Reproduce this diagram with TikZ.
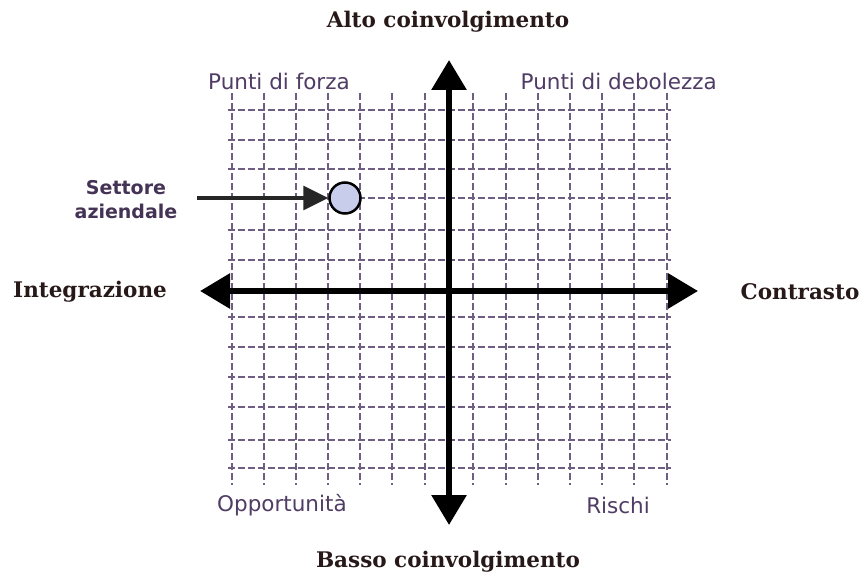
\documentclass[tikz,border=0pt]{standalone}
\usepackage{fontspec}
\setmainfont{DejaVu Sans}
\newfontfamily\titlefont{DejaVu Serif}
\usetikzlibrary{arrows.meta}
\definecolor{gridc}{RGB}{110,95,130}
\definecolor{labc}{RGB}{80,60,100}
\definecolor{titc}{RGB}{40,25,25}
\definecolor{dotfill}{RGB}{200,205,235}
\tikzset{
  gridline/.style={gridc, line width=2.4pt, dash pattern=on 7pt off 3pt},
  axisline/.style={line width=6pt, black,
    {Triangle[length=30pt,width=34pt]}-{Triangle[length=30pt,width=34pt]}},
  pointer/.style={line width=3.5pt, black!85, -{Triangle[length=25pt,width=24pt]}},
  quadlabel/.style={font=\fontsize{21.5}{23}\selectfont, text=labc, inner sep=0pt},
  axistitle/.style={font=\titlefont\bfseries\fontsize{21.5}{23}\selectfont, text=titc, inner sep=0pt},
  sector/.style={circle, draw=black, line width=2.5pt, fill=dotfill, minimum size=31pt, inner sep=0pt}
}
\begin{document}
\begin{tikzpicture}[x=1pt,y=-1pt]
\useasboundingbox[fill=white] (0,0) rectangle (861,575);
% grid
\foreach \gx in {232,264,296,328,360,392,425,473,506,538,570,602,634,667}
  \draw[gridline] (\gx,93) -- (\gx,485);
\foreach \gy in {110,140,169,198,230,260,317,347,377,407,440,468}
  \draw[gridline] (228,\gy) -- (671,\gy);
% axes
\coordinate (top) at (449,60);
\coordinate (bot) at (449,525);
\coordinate (lft) at (200,291);
\coordinate (rgt) at (698,291);
\draw[axisline] (bot) -- (top);
\draw[axisline] (lft) -- (rgt);
% sector marker
\node[sector] (sec) at (345,198) {};
\coordinate (src) at (197,198);
\draw[pointer] (src) -- (sec.west);
% labels
\node[quadlabel, align=center, font=\bfseries\fontsize{19}{24}\selectfont, text=labc!85!black] (settore) at (126,200) {Settore\\aziendale};
\node[quadlabel, anchor=west] (forza) at (208,81) {Punti di forza};
\node[quadlabel, anchor=east] (debolezza) at (717,81) {Punti di debolezza};
\node[quadlabel, anchor=west] (opp) at (217,505) {Opportunità};
\node[quadlabel, anchor=east] (rischi) at (650,505) {Rischi};
\node[axistitle] (alto) at (448,22) {Alto coinvolgimento};
\node[axistitle] (basso) at (448,562) {Basso coinvolgimento};
\node[axistitle] (integr) at (90,292) {Integrazione};
\node[axistitle] (contr) at (800,292) {Contrasto};
\end{tikzpicture}
\end{document}
